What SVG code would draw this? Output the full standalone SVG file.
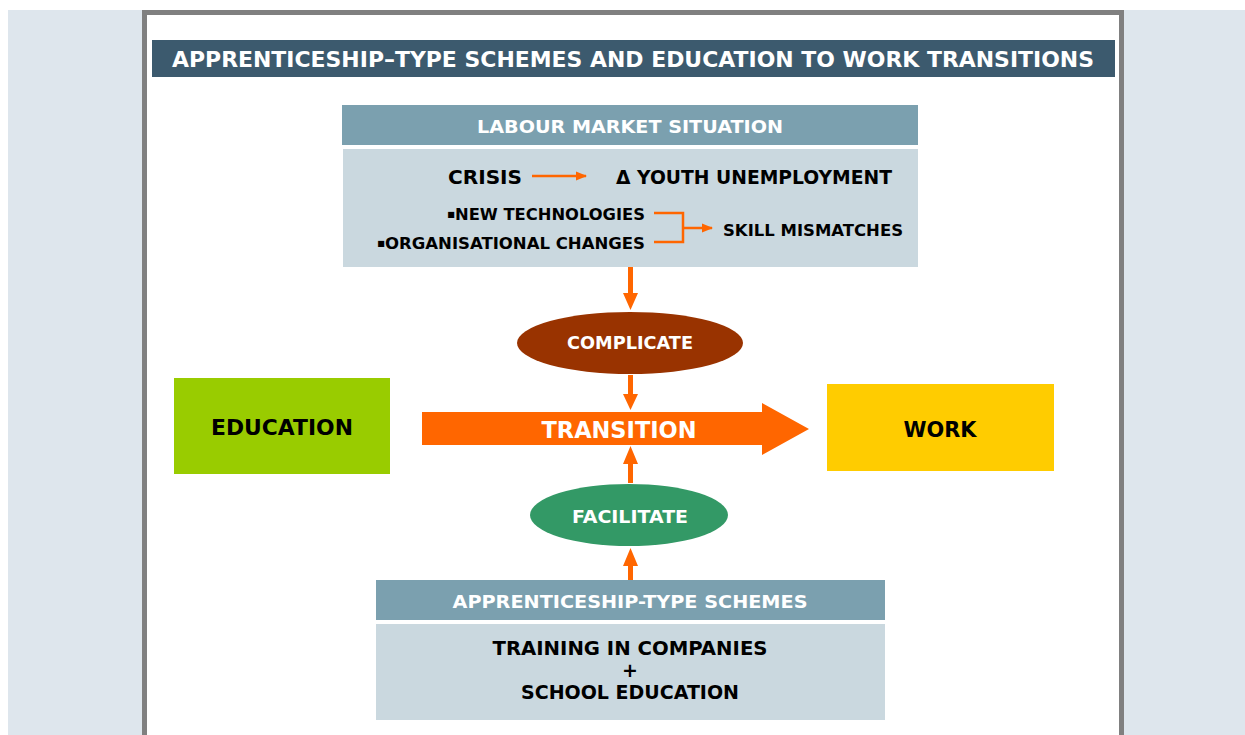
<svg xmlns="http://www.w3.org/2000/svg" width="1245" height="735" viewBox="0 0 1245 735">
<defs>
<style>
text{font-family:"DejaVu Sans","Verdana",sans-serif;font-weight:bold;text-anchor:middle}
.w{fill:#ffffff}
.k{fill:#000000}
.hdr{fill:#7BA0AF}
.body{fill:#CAD8DF}
.ln{stroke:#FF6600;stroke-width:2.5;fill:none}
.or{fill:#FF6600}
.bul{font-size:8px}
</style>
<marker id="ah" viewBox="0 0 10 10" refX="9" refY="5" markerWidth="4.5" markerHeight="4.5" orient="auto" markerUnits="strokeWidth"><path d="M0,1 L10,5 L0,9 z" fill="#FF6600"/></marker>
</defs>
<rect x="0" y="0" width="1245" height="735" fill="#ffffff"/>
<rect x="8" y="10" width="1237" height="725" fill="#DEE6ED"/>
<rect x="142" y="10" width="982" height="725" fill="#808080"/>
<rect x="147" y="15" width="972" height="720" fill="#ffffff"/>

<g id="title">
<rect x="152" y="40" width="963" height="37" fill="#3C5A6E"/>
<text class="w" x="633" y="67" font-size="22" textLength="922" lengthAdjust="spacingAndGlyphs">APPRENTICESHIP–TYPE SCHEMES AND EDUCATION TO WORK TRANSITIONS</text>
</g>

<g id="labour-market">
<rect class="hdr" x="342" y="105" width="576" height="40"/>
<text class="w" x="630" y="133" font-size="18" textLength="306" lengthAdjust="spacingAndGlyphs">LABOUR MARKET SITUATION</text>
<rect class="body" x="343" y="149" width="575" height="118"/>
<text class="k" x="485" y="184" font-size="19" textLength="74" lengthAdjust="spacingAndGlyphs">CRISIS</text>
<text class="k" x="754" y="184" font-size="19" textLength="276" lengthAdjust="spacingAndGlyphs">Δ YOUTH UNEMPLOYMENT</text>
<text class="k bul" x="451" y="217">■</text>
<text class="k" x="550" y="220" font-size="16" textLength="190" lengthAdjust="spacingAndGlyphs">NEW TECHNOLOGIES</text>
<text class="k bul" x="381" y="246">■</text>
<text class="k" x="515" y="249" font-size="16" textLength="260" lengthAdjust="spacingAndGlyphs">ORGANISATIONAL CHANGES</text>
<text class="k" x="813" y="236" font-size="16" textLength="180" lengthAdjust="spacingAndGlyphs">SKILL MISMATCHES</text>
</g>

<g id="complicate">
<ellipse cx="630" cy="343" rx="113" ry="31" fill="#993300"/>
<text class="w" x="630" y="349" font-size="17" textLength="126" lengthAdjust="spacingAndGlyphs">COMPLICATE</text>
</g>

<g id="transition">
<path class="or" d="M422,412 H762 V403 L809,429 L762,455 V445 H422 Z"/>
<text class="w" x="619" y="438" font-size="23" textLength="155" lengthAdjust="spacingAndGlyphs">TRANSITION</text>
</g>

<g id="education">
<rect x="174" y="378" width="216" height="96" fill="#99CC00"/>
<text class="k" x="282" y="435" font-size="22" textLength="142" lengthAdjust="spacingAndGlyphs">EDUCATION</text>
</g>

<g id="work">
<rect x="827" y="384" width="227" height="87" fill="#FFCC00"/>
<text class="k" x="940" y="437" font-size="22" textLength="73" lengthAdjust="spacingAndGlyphs">WORK</text>
</g>

<g id="facilitate">
<ellipse cx="629" cy="515" rx="99" ry="31" fill="#339966"/>
<text class="w" x="630" y="523" font-size="17" textLength="116" lengthAdjust="spacingAndGlyphs">FACILITATE</text>
</g>

<g id="apprenticeship">
<rect class="hdr" x="376" y="580" width="509" height="40"/>
<text class="w" x="630" y="608" font-size="18" textLength="355" lengthAdjust="spacingAndGlyphs">APPRENTICESHIP-TYPE SCHEMES</text>
<rect class="body" x="376" y="624" width="509" height="96"/>
<text class="k" x="630" y="655" font-size="19" textLength="275" lengthAdjust="spacingAndGlyphs">TRAINING IN COMPANIES</text>
<text class="k" x="630" y="677" font-size="19">+</text>
<text class="k" x="630" y="699" font-size="19" textLength="218" lengthAdjust="spacingAndGlyphs">SCHOOL EDUCATION</text>
</g>

<g id="connectors">
<path class="ln" d="M532,176 H586" marker-end="url(#ah)"/>
<path class="ln" d="M654,213 H683 V242 H654"/>
<path class="ln" d="M683,228 H712" marker-end="url(#ah)"/>
<path class="or" d="M628,267 H633 V293 H638 L630.5,310 L623,293 H628 Z"/>
<path class="or" d="M628,375 H633 V394 H638 L630.5,410 L623,394 H628 Z"/>
<path class="or" d="M628,483 H633 V464 H638 L630.5,446 L623,464 H628 Z"/>
<path class="or" d="M628,580 H633 V566 H638 L630.5,548 L623,566 H628 Z"/>
</g>
</svg>
